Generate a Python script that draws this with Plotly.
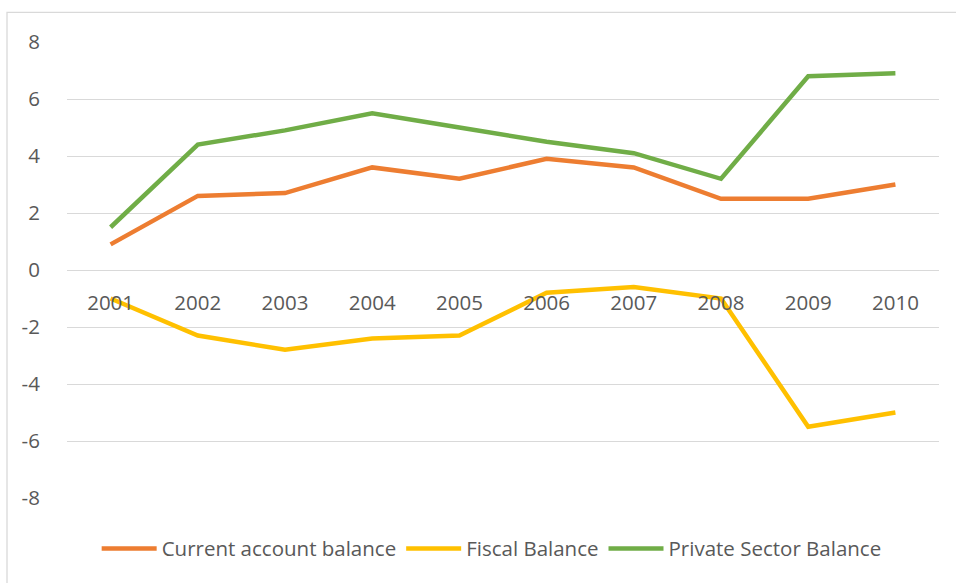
import plotly.graph_objects as go

years = ["2001", "2002", "2003", "2004", "2005", "2006", "2007", "2008", "2009", "2010"]
current_account = [0.9, 2.6, 2.7, 3.6, 3.2, 3.9, 3.6, 2.5, 2.5, 3.0]
fiscal_balance = [-1.0, -2.3, -2.8, -2.4, -2.3, -0.8, -0.6, -1.0, -5.5, -5.0]
private_sector = [1.5, 4.4, 4.9, 5.5, 5.0, 4.5, 4.1, 3.2, 6.8, 6.9]
y_ticks = [-8, -6, -4, -2, 0, 2, 4, 6, 8]
y_tick_labels = ["-8", "-6", "-4", "-2", "0", "2", "4", "6", "8"]

series = [
    ("Current account balance", current_account, "#ED7D31"),
    ("Fiscal Balance", fiscal_balance, "#FFC000"),
    ("Private Sector Balance", private_sector, "#70AD47"),
]

fig = go.Figure()
for name, vals, color in series:
    fig.add_trace(go.Scatter(
        x=years, y=vals, name=name, mode="lines",
        line=dict(color=color, width=4.5),
    ))

W, H = 956, 583
L, R, T, B = 67, 17, 41.7, 84.7
pw, ph = W - L - R, H - T - B
FS = 20.5

fig.update_layout(
    width=W, height=H,
    margin=dict(l=L, r=R, t=T, b=B),
    paper_bgcolor="white", plot_bgcolor="white",
    font=dict(family="Open Sans, Liberation Sans, sans-serif", size=FS, color="#595959"),
    showlegend=True,
    legend=dict(
        orientation="h", x=0.487, xanchor="center", y=-50.7 / ph, yanchor="middle",
        font=dict(size=FS, color="#595959"), itemwidth=55, traceorder="normal",
        bgcolor="rgba(0,0,0,0)",
    ),
    xaxis=dict(
        type="category", anchor="free", position=0.5,
        showgrid=False, zeroline=False, showline=False,
        ticks="outside", ticklen=14, tickcolor="rgba(0,0,0,0)",
        tickfont=dict(size=FS, color="#595959"),
        range=[-0.5, 9.5],
    ),
    yaxis=dict(
        range=[-8, 8], tickvals=y_ticks, ticktext=y_tick_labels,
        showgrid=True, gridcolor="#D9D9D9", gridwidth=1.3,
        zeroline=True, zerolinecolor="#D9D9D9", zerolinewidth=1.3,
        showline=False,
        ticks="outside", ticklen=22, tickcolor="rgba(0,0,0,0)",
        tickfont=dict(size=FS, color="#595959"),
    ),
)

fig.add_shape(
    type="rect", xref="paper", yref="paper",
    x0=(7 - L) / pw, x1=(W + 5 - L) / pw,
    y0=(-(H + 5 - (T + ph))) / ph, y1=1 + (T - 12) / ph,
    line=dict(color="#D9D9D9", width=1.3), fillcolor="rgba(0,0,0,0)", layer="below",
)

fig.write_html("out.html")
